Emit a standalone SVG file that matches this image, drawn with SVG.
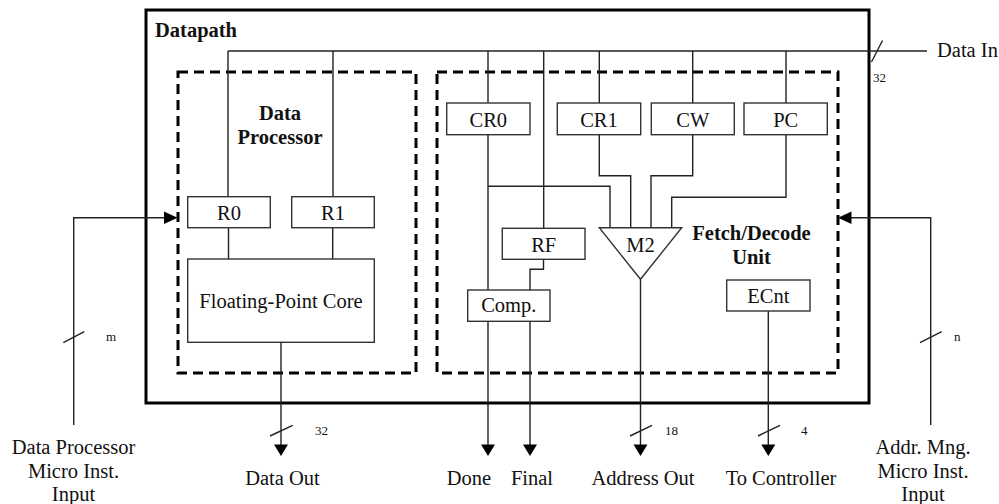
<svg xmlns="http://www.w3.org/2000/svg" width="999" height="504" viewBox="0 0 999 504">
<defs>
<style>
.t{font-family:"Liberation Serif","Times New Roman",serif;font-size:20.5px;fill:#111;}
.b{font-weight:bold;}
.s{font-family:"Liberation Serif","Times New Roman",serif;font-size:13px;fill:#111;}
.box{fill:#fff;stroke:#333;stroke-width:1.4;}
.ln{fill:none;stroke:#222;stroke-width:1.4;}
.dash{fill:none;stroke:#000;stroke-width:3;stroke-dasharray:10,6;}
.outer{fill:#fff;stroke:#000;stroke-width:3;}
.ah{fill:#000;stroke:none;}
</style>
</defs>
<rect width="999" height="504" fill="#fff"/>

<g id="datapath">
<rect class="outer" x="146" y="10" width="723" height="393"/>
<text class="t b" x="155" y="36.5">Datapath</text>
</g>

<g id="data-processor">
<rect class="dash" x="178" y="72" width="238" height="301"/>
<text class="t b" x="280" y="119.7" text-anchor="middle">Data</text>
<text class="t b" x="280" y="143.6" text-anchor="middle">Processor</text>
</g>

<g id="fetch-decode">
<rect class="dash" x="437" y="72" width="401" height="301"/>
<text class="t b" x="751.5" y="240" text-anchor="middle">Fetch/Decode</text>
<text class="t b" x="751.5" y="263.5" text-anchor="middle">Unit</text>
</g>

<g id="connectors">
<!-- Data In bus -->
<path class="ln" d="M228,51 H927"/>
<path class="ln" d="M871.5,62 L882.5,40.5"/>
<!-- drops from bus -->
<path class="ln" d="M228,51 V196.7 M333,51 V196.7 M488,51 V103 M543.7,51 V228.3 M599.3,51 V103 M692.7,51 V103 M786,51 V103"/>
<!-- Data processor internals -->
<path class="ln" d="M228.5,227.7 V259 M332.7,227.7 V259"/>
<path class="ln" d="M281,342.3 V445"/>
<path class="ln" d="M270,436 L292.7,425.3"/>
<!-- CR0 -->
<path class="ln" d="M488,134.7 V290 M488,186.3 H610 V227.7"/>
<path class="ln" d="M488,321.3 V445"/>
<!-- RF to Comp -->
<path class="ln" d="M543.5,259.3 V269.3 H530 V290"/>
<path class="ln" d="M530,321.3 V445"/>
<!-- CR1, CW, PC to M2 -->
<path class="ln" d="M599.3,134.7 V175.7 H630.7 V227.7"/>
<path class="ln" d="M692.7,134.7 V175.7 H651 V227.7"/>
<path class="ln" d="M786,134.7 V197.3 H671.7 V227.7"/>
<!-- M2 out -->
<path class="ln" d="M640.5,279.3 V445"/>
<path class="ln" d="M630,436 L652,425.3"/>
<!-- ECnt out -->
<path class="ln" d="M768.3,311 V445"/>
<path class="ln" d="M758,436 L780,425.3"/>
<!-- left input -->
<path class="ln" d="M73.7,425 V217.7 H165"/>
<path class="ln" d="M63.3,342.7 L84.3,331.7"/>
<!-- right input -->
<path class="ln" d="M930.7,425 V217.7 H851"/>
<path class="ln" d="M920,342.7 L941.7,331.7"/>
<!-- arrowheads -->
<path class="ah" d="M274,444.5 L288,444.5 L281,456 Z"/>
<path class="ah" d="M481,444.5 L495,444.5 L488,456 Z"/>
<path class="ah" d="M523,444.5 L537,444.5 L530,456 Z"/>
<path class="ah" d="M633.5,444.5 L647.5,444.5 L640.5,456 Z"/>
<path class="ah" d="M761.3,444.5 L775.3,444.5 L768.3,456 Z"/>
<path class="ah" d="M164,211.5 L164,224 L177.5,217.7 Z"/>
<path class="ah" d="M851.5,211.5 L851.5,224 L838,217.7 Z"/>
</g>

<g id="R0"><rect class="box" x="187.7" y="196.7" width="82.6" height="31"/><text class="t" x="229" y="220" text-anchor="middle">R0</text></g>
<g id="R1"><rect class="box" x="291.7" y="196.7" width="82.6" height="31"/><text class="t" x="333" y="220" text-anchor="middle">R1</text></g>
<g id="fp-core"><rect class="box" x="187.7" y="259" width="186.6" height="83.3"/><text class="t" x="281" y="308" text-anchor="middle">Floating-Point Core</text></g>

<g id="CR0"><rect class="box" x="446.7" y="103" width="83.3" height="31.7"/><text class="t" x="488.3" y="127" text-anchor="middle">CR0</text></g>
<g id="CR1"><rect class="box" x="557.3" y="103" width="83.4" height="31.7"/><text class="t" x="599" y="127" text-anchor="middle">CR1</text></g>
<g id="CW"><rect class="box" x="651.3" y="103" width="83" height="31.7"/><text class="t" x="692.8" y="127" text-anchor="middle">CW</text></g>
<g id="PC"><rect class="box" x="744" y="103" width="83.3" height="31.7"/><text class="t" x="785.7" y="127" text-anchor="middle">PC</text></g>
<g id="RF"><rect class="box" x="502.3" y="228.3" width="82.7" height="31"/><text class="t" x="543.7" y="251.7" text-anchor="middle">RF</text></g>
<g id="M2"><path class="box" d="M599.3,227.7 H681.7 L640.5,279.3 Z"/><text class="t" x="640.5" y="252" text-anchor="middle">M2</text></g>
<g id="Comp"><rect class="box" x="467.7" y="290" width="82.3" height="31.3"/><text class="t" x="508.8" y="311.5" text-anchor="middle">Comp.</text></g>
<g id="ECnt"><rect class="box" x="726.7" y="280" width="83.3" height="31"/><text class="t" x="768.3" y="302.5" text-anchor="middle">ECnt</text></g>

<g id="labels">
<text class="t" x="937" y="57">Data In</text>
<text class="s" x="873" y="82">32</text>
<text class="s" x="106" y="341">m</text>
<text class="s" x="954" y="341">n</text>
<text class="s" x="315" y="435">32</text>
<text class="s" x="665" y="435">18</text>
<text class="s" x="801" y="435">4</text>
<text class="t" x="73.5" y="454" text-anchor="middle">Data Processor</text>
<text class="t" x="73.5" y="477.5" text-anchor="middle">Micro Inst.</text>
<text class="t" x="73.5" y="501" text-anchor="middle">Input</text>
<text class="t" x="923" y="454" text-anchor="middle">Addr. Mng.</text>
<text class="t" x="923" y="477.5" text-anchor="middle">Micro Inst.</text>
<text class="t" x="923" y="501" text-anchor="middle">Input</text>
<text class="t" x="282.5" y="484.5" text-anchor="middle">Data Out</text>
<text class="t" x="469" y="484.5" text-anchor="middle">Done</text>
<text class="t" x="532" y="484.5" text-anchor="middle">Final</text>
<text class="t" x="643" y="484.5" text-anchor="middle">Address Out</text>
<text class="t" x="781" y="484.5" text-anchor="middle">To Controller</text>
</g>
</svg>
